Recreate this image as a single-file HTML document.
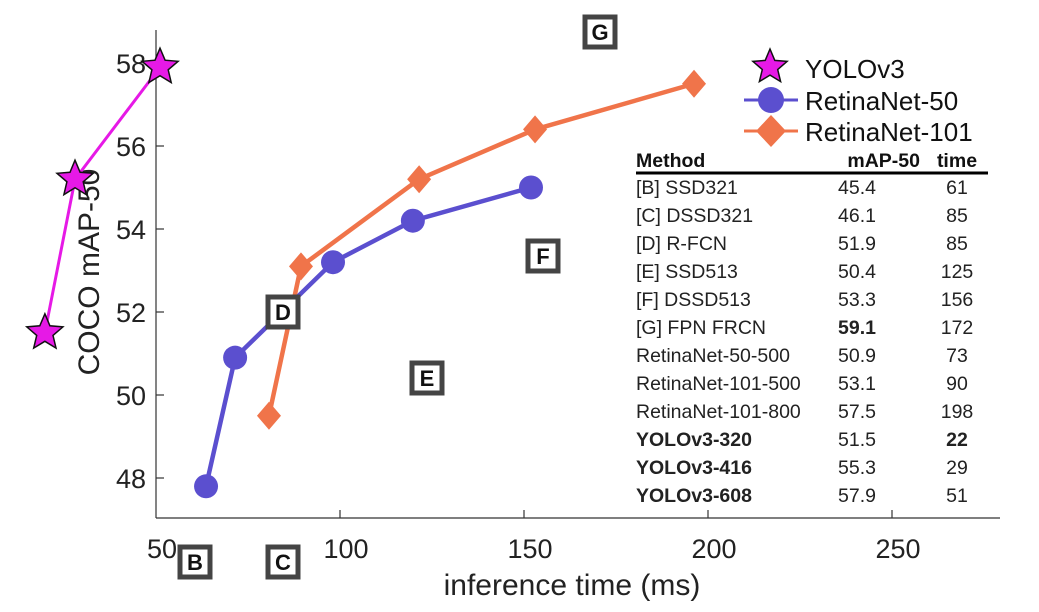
<!DOCTYPE html>
<html><head><meta charset="utf-8"><style>
html,body{margin:0;padding:0;background:#fff;}
svg{display:block;font-family:"Liberation Sans",sans-serif;}
</style></head><body>
<svg id="chart" width="1039" height="612" viewBox="0 0 1039 612">
<g id="axes"></g>
<g id="series"></g>
<g id="boxes"></g>
<g id="legend"></g>
<g id="table"></g>
</svg>
<script>
const xTicks = [50, 100, 150, 200, 250];
const yTicks = [48, 50, 52, 54, 56, 58];
const yoloTime = [19.8, 28, 51.1];
const yoloMap = [51.5, 55.2, 57.9];
const r50Time = [63.6, 71.5, 98.1, 119.8, 151.9];
const r50Map = [47.8, 50.9, 53.2, 54.2, 55.0];
const r101Time = [80.7, 89.4, 121.5, 153, 196.2];
const r101Map = [49.5, 53.1, 55.2, 56.4, 57.5];
const boxLetters = ["B", "C", "D", "E", "F", "G"];
const boxTime = [61, 85, 85, 125, 156, 172];
const boxMap = [45.4, 46.1, 51.9, 50.4, 53.3, 59.1];
const tableMethods = ["[B] SSD321","[C] DSSD321","[D] R-FCN","[E] SSD513","[F] DSSD513","[G] FPN FRCN","RetinaNet-50-500","RetinaNet-101-500","RetinaNet-101-800","YOLOv3-320","YOLOv3-416","YOLOv3-608"];
const tableMap = ["45.4","46.1","51.9","50.4","53.3","59.1","50.9","53.1","57.5","51.5","55.3","57.9"];
const tableTime = ["61","85","85","125","156","172","73","90","198","22","29","51"];
const boldMethod = [0,0,0,0,0,0,0,0,0,1,1,1];
const boldMap = [0,0,0,0,0,1,0,0,0,0,0,0];
const boldTime = [0,0,0,0,0,0,0,0,0,1,0,0];

const NS = "http://www.w3.org/2000/svg";
const X0 = 156, XPU = 3.68, Y48 = 478, YPU = 41.5;
const xS = t => X0 + (t - 50) * XPU;
const yS = m => Y48 - (m - 48) * YPU;
function mk(tag, attrs, parent, text) {
  const e = document.createElementNS(NS, tag);
  for (const k in attrs) e.setAttribute(k, attrs[k]);
  if (text !== undefined) e.textContent = text;
  parent.appendChild(e);
  return e;
}
const axes = document.getElementById('axes');
let e;
e = mk('line', {x1:X0, y1:30, x2:X0, y2:518, stroke:'#333', 'stroke-width':1.2}, axes);


e = mk('line', {x1:X0, y1:518, x2:1000, y2:518, stroke:'#333', 'stroke-width':1.2}, axes);


xTicks.forEach(t => {
  const x = xS(t);
  if (t > 50) { e = mk('line', {x1:x, y1:518, x2:x, y2:510, stroke:'#333', 'stroke-width':1.2}, axes);
    
     }
  e = mk('text', {x:x + 6, y:558, 'text-anchor':'middle', 'font-size':27, fill:'#222'}, axes, String(t));
  
  
});
yTicks.forEach(v => {
  const y = yS(v);
  e = mk('line', {x1:X0, y1:y, x2:X0 + 8, y2:y, stroke:'#333', 'stroke-width':1.2}, axes);
  
  
  e = mk('text', {x:146, y:y + 10, 'text-anchor':'end', 'font-size':27, fill:'#222'}, axes, String(v));
  
  
});
e = mk('text', {x:572, y:595, 'text-anchor':'middle', 'font-size':30, fill:'#222'}, axes, 'inference time (ms)');


e = mk('text', {x:0, y:0, 'text-anchor':'middle', 'font-size':30, fill:'#222', transform:'translate(99,272) rotate(-90)'}, axes, 'COCO mAP-50');



const series = document.getElementById('series');
function starPts(cx, cy, R) {
  const r = R * 0.45; let p = [];
  for (let i = 0; i < 10; i++) {
    const a = -Math.PI / 2 + i * Math.PI / 5, rr = i % 2 ? r : R;
    p.push((cx + rr * Math.cos(a)).toFixed(1) + ',' + (cy + rr * Math.sin(a)).toFixed(1));
  }
  return p.join(' ');
}
function drawSeries(times, maps, color, kind, name) {
  const pts = times.map((t, i) => xS(t) + ',' + yS(maps[i])).join(' ');
  e = mk('polyline', {points:pts, fill:'none', stroke:color, 'stroke-width':kind === 'star' ? 3 : 4.5}, series);
  
  
  times.forEach((t, i) => {
    const x = xS(t), y = yS(maps[i]);
    if (kind === 'star') e = mk('polygon', {points:starPts(x, y, 19), fill:'#e619e6', stroke:'#111', 'stroke-width':1.5}, series);
    else if (kind === 'circle') e = mk('circle', {cx:x, cy:y, r:12, fill:'#5b4fcf'}, series);
    else e = mk('polygon', {points:`${x},${y-14} ${x+12},${y} ${x},${y+14} ${x-12},${y}`, fill:'#f0744a'}, series);
    
    
  });
}
drawSeries(r101Time, r101Map, '#f0744a', 'diamond', 'retinanet-101');
drawSeries(r50Time, r50Map, '#5b4fcf', 'circle', 'retinanet-50');
drawSeries(yoloTime, yoloMap, '#e619e6', 'star', 'yolov3');

const boxes = document.getElementById('boxes');
const boxPos = {B:[195,562], C:[283,562], D:[283,312], E:[427,378], F:[543,256], G:[600,32]};
boxLetters.forEach((l, i) => {
  const p = boxPos[l];
  e = mk('rect', {x:p[0]-15, y:p[1]-15, width:30, height:30, fill:'#fff', stroke:'#444', 'stroke-width':5}, boxes);
  
  
  e = mk('text', {x:p[0], y:p[1] + 8, 'text-anchor':'middle', 'font-size':22, 'font-weight':'bold', fill:'#111'}, boxes, l);
  
  
});

const legend = document.getElementById('legend');
e = mk('polygon', {points:starPts(770, 67, 18), fill:'#e619e6', stroke:'#111', 'stroke-width':1.5}, legend);


e = mk('text', {x:805, y:78, 'font-size':26, fill:'#111'}, legend, 'YOLOv3');


e = mk('line', {x1:744, y1:100, x2:798, y2:100, stroke:'#5b4fcf', 'stroke-width':3}, legend);


e = mk('circle', {cx:771, cy:100, r:13, fill:'#5b4fcf'}, legend);


e = mk('text', {x:805, y:110, 'font-size':26, fill:'#111'}, legend, 'RetinaNet-50');


e = mk('line', {x1:744, y1:131, x2:798, y2:131, stroke:'#f0744a', 'stroke-width':3}, legend);


e = mk('polygon', {points:'771,115 786,131 771,147 756,131', fill:'#f0744a'}, legend);


e = mk('text', {x:805, y:141, 'font-size':26, fill:'#111'}, legend, 'RetinaNet-101');



const table = document.getElementById('table');
e = mk('text', {x:636, y:167, 'font-size':19.5, 'font-weight':'bold', fill:'#111'}, table, 'Method');


e = mk('text', {x:920, y:167, 'text-anchor':'end', 'font-size':19.5, 'font-weight':'bold', fill:'#111'}, table, 'mAP-50');


e = mk('text', {x:957, y:167, 'text-anchor':'middle', 'font-size':19.5, 'font-weight':'bold', fill:'#111'}, table, 'time');


e = mk('line', {x1:636, y1:173, x2:988, y2:173, stroke:'#000', 'stroke-width':3}, table);


tableMethods.forEach((m, i) => {
  const y = 194 + i * 28;
  e = mk('text', {x:636, y:y, 'font-size':19.5, 'font-weight':boldMethod[i] ? 'bold' : 'normal', fill:'#222'}, table, m);
  
  
  e = mk('text', {x:876, y:y, 'text-anchor':'end', 'font-size':19.5, 'font-weight':boldMap[i] ? 'bold' : 'normal', fill:'#222'}, table, tableMap[i]);
  
  
  e = mk('text', {x:957, y:y, 'text-anchor':'middle', 'font-size':19.5, 'font-weight':boldTime[i] ? 'bold' : 'normal', fill:'#222'}, table, tableTime[i]);
  
  
});
</script>
</body></html>
